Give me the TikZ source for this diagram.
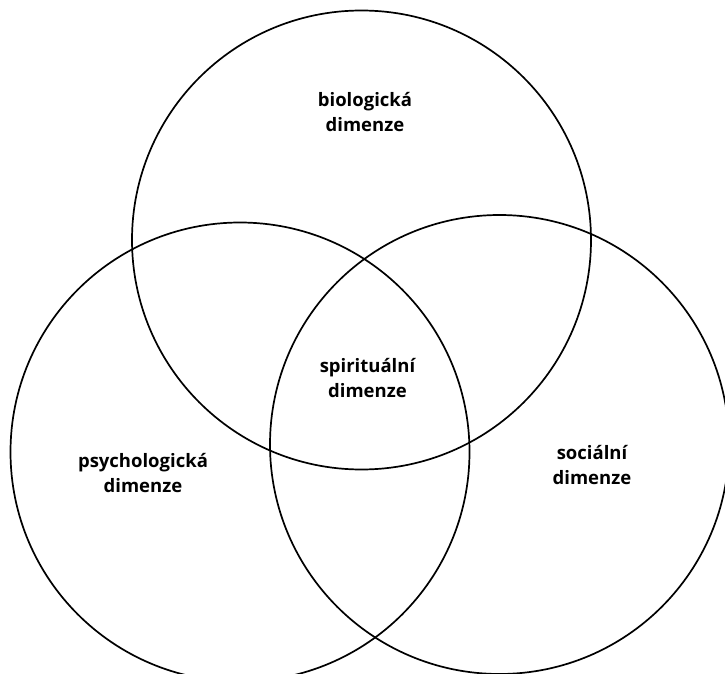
\documentclass[tikz,border=0pt]{standalone}
\usepackage{fontspec}
\setmainfont{Open Sans}
\usepackage{tikz}

\tikzset{
  ring/.style={line width=1.7pt},
  dimlabel/.style={align=center,font=\bfseries\fontsize{18.5}{24.5}\selectfont}
}

\begin{document}
\begin{tikzpicture}[x=1pt,y=1pt]
        \useasboundingbox (0,0) rectangle (725,673);
        \clip (0,0) rectangle (725,673);
        % the three circles
        \draw[ring] (361.5,433) circle(229.5);
        \draw[ring] (240,221) circle(229.5);
        \draw[ring] (499.5,228.5) circle(229.5);
        % labels
        \node[dimlabel] (bio) at (365,561) {biologická\\dimenze};
        \node[dimlabel] (spirit) at (367.5,295) {spirituální\\dimenze};
        \node[dimlabel] (psych) at (143,200) {psychologická\\dimenze};
        \node[dimlabel] (social) at (592,208) {sociální\\dimenze};
      \end{tikzpicture}
\end{document}
